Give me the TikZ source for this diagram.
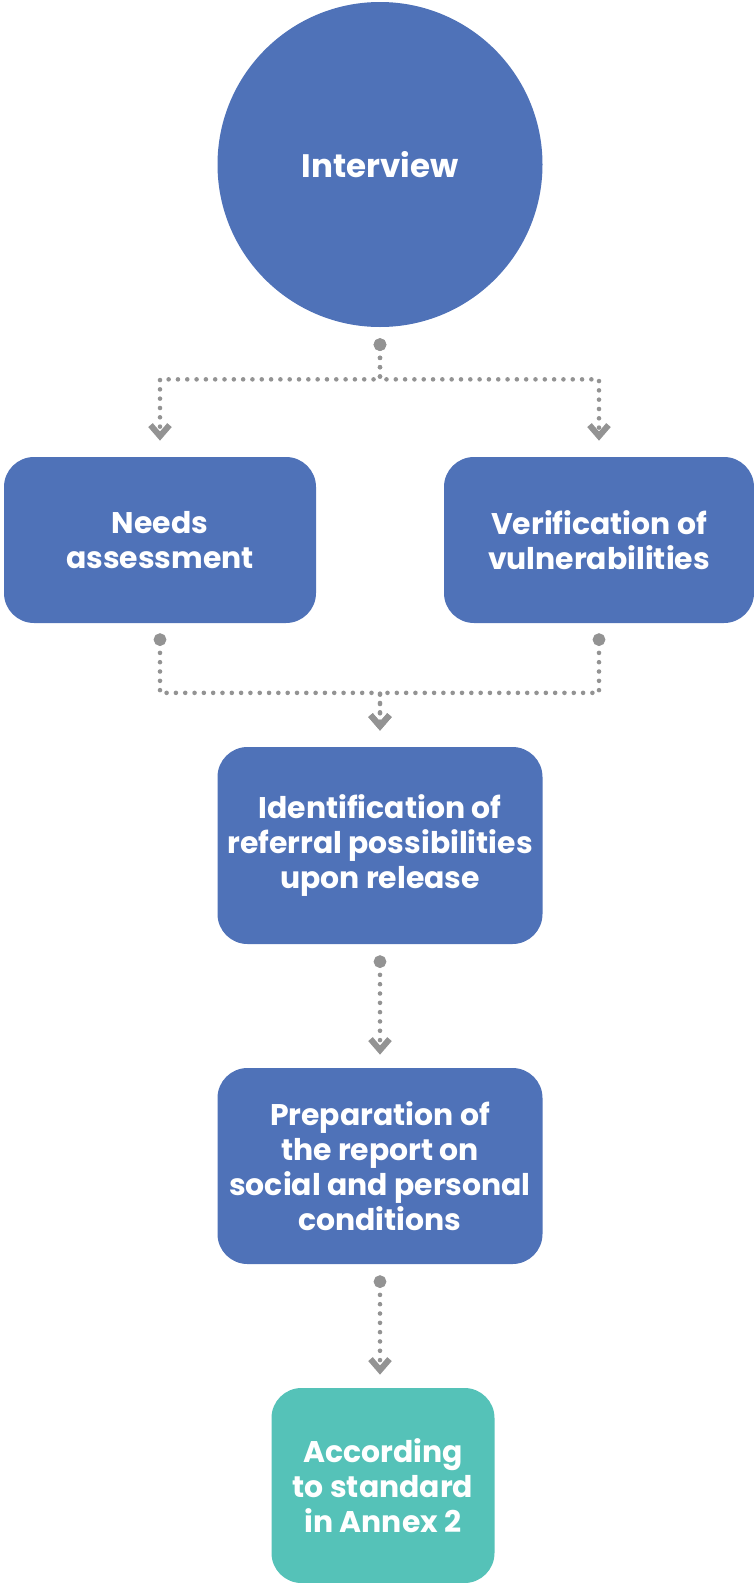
\documentclass[tikz,border=0pt]{standalone}
\usepackage{fontspec}
\setmainfont{Poppins}
\usepackage{xcolor}
\usepackage{tikz}
\usetikzlibrary{arrows.meta, positioning}

\definecolor{stepblue}{HTML}{4F72B8}
\definecolor{stepteal}{HTML}{55C2B8}
\definecolor{linkgray}{HTML}{939393}

\tikzset{
    stepbox/.style={rectangle, rounded corners=0.6cm, fill=stepblue, text=white,
        font=\bfseries\fontsize{17}{20}\selectfont, align=center, inner sep=0pt},
    link/.style={draw=linkgray, line width=2.6pt, line cap=round,
        dash pattern=on 0pt off 5.3pt,
        {Circle[length=0.25cm]}-{Straight Barb[length=0.22cm, width=0.38cm, line width=3.4pt]},
        shorten <=0.22cm, shorten >=0.32cm}
}

\begin{document}
\begin{tikzpicture}[on grid]
            \useasboundingbox (0,0) rectangle (15.08,-31.66);
            \node[circle, fill=stepblue, text=white, minimum size=6.5cm,
                font=\bfseries\fontsize{18.5}{22}\selectfont] (int) at (7.6,-3.29) {Interview};
            \node[stepbox, minimum width=6.24cm, minimum height=3.32cm,
                below left=7.51cm and 4.4cm of int] (needs) {Needs\\assessment};
            \node[stepbox, minimum width=6.2cm, minimum height=3.32cm,
                below right=7.51cm and 4.38cm of int] (vuln) {Verification of\\vulnerabilities};
            \node[stepbox, minimum width=6.5cm, minimum height=3.94cm,
                below=13.62cm of int] (ident) {Identification of\\referral possibilities\\upon release};
            \node[stepbox, minimum width=6.5cm, minimum height=3.92cm,
                below=6.41cm of ident] (prep) {Preparation of\\the report on\\social and personal\\conditions};
            \node[stepbox, fill=stepteal, minimum width=4.46cm, minimum height=3.9cm,
                below=6.39cm of prep, xshift=0.06cm] (annex) {According\\to standard\\in Annex 2};

            % from the interview to both checks
            \draw[link] (int.south) -- ++(0,-1.04) -| (needs.north);
            \draw[link] (int.south) -- ++(0,-1.04) -| (vuln.north);
            % both checks join again
            \draw[link, shorten <=0.2cm] (needs.south) -- ++(0,-1.39) -| (ident.north);
            \draw[link, shorten <=0.2cm] (vuln.south) -- ++(0,-1.39) -| (ident.north);
            \draw[link, shorten >=0.26cm] (ident) -- (prep);
            \draw[link, shorten >=0.26cm] (prep) -- (annex.north -| prep.south);
        \end{tikzpicture}
\end{document}
